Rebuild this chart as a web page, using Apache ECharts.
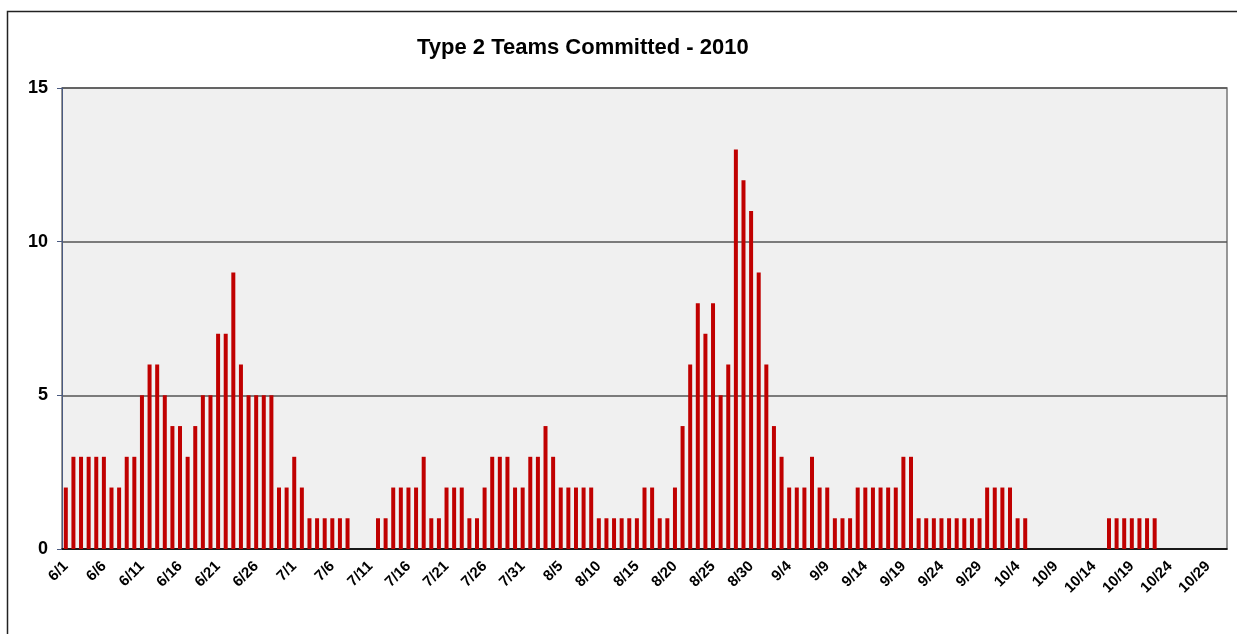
<!DOCTYPE html>
<html>
<head>
<meta charset="utf-8">
<title>Type 2 Teams Committed - 2010</title>
<script src="https://cdn.jsdelivr.net/npm/echarts@6/dist/echarts.min.js"></script>
<style>
  html, body { margin: 0; padding: 0; background: #fff; }
  #chart { width: 1237px; height: 634px; }
</style>
</head>
<body>
<div id="chart"></div>
<script>
// teams committed per day, one array per month
var june = [2, 3, 3, 3, 3, 3, 2, 2, 3, 3, 5, 6, 6, 5, 4, 4, 3, 4, 5, 5,
  7, 7, 9, 6, 5, 5, 5, 5, 2, 2]
var july = [3, 2, 1, 1, 1, 1, 1, 1, 0, 0, 0, 1, 1, 2, 2, 2, 2, 3, 1, 1,
  2, 2, 2, 1, 1, 2, 3, 3, 3, 2, 2]
var august = [3, 3, 4, 3, 2, 2, 2, 2, 2, 1, 1, 1, 1, 1, 1, 2, 2, 1, 1, 2,
  4, 6, 8, 7, 8, 5, 6, 13, 12, 11, 9]
var september = [6, 4, 3, 2, 2, 2, 3, 2, 2, 1, 1, 1, 2, 2, 2, 2, 2, 2, 3, 3,
  1, 1, 1, 1, 1, 1, 1, 1, 1, 2]
var october = [2, 2, 2, 1, 1, 0, 0, 0, 0, 0, 0, 0, 0, 0, 0, 1, 1, 1, 1, 1,
  1, 1, 0, 0, 0, 0, 0, 0, 0, 0, 0]

var months = [6, 7, 8, 9, 10]
var monthValues = [june, july, august, september, october]

// category labels like 6/1 ... 10/31
var days = []
var values = []
monthValues.forEach(function(arr, i) {
  arr.forEach(function(v, d) {
    days.push(months[i] + '/' + (d + 1))
    values.push(v)
  })
})

var chart = echarts.init(document.getElementById('chart'))
chart.setOption({
  animation: false,
  textStyle: { fontFamily: 'Liberation Sans, Arial, sans-serif' },
  title: {
    text: 'Type 2 Teams Committed - 2010',
    left: 412,
    top: 32,
    textStyle: {
      fontSize: 22,
      fontWeight: 'bold',
      color: '#000'
    }
  },
  graphic: [{
    type: 'rect',
    left: 5,
    top: 9,
    shape: { width: 1240, height: 640 },
    style: { fill: 'none', stroke: '#222', lineWidth: 1.5 },
    silent: true
  }],
  grid: {
    left: 62,
    right: 10,
    top: 88,
    bottom: 85,
    show: true,
    backgroundColor: '#f0f0f0',
    borderColor: '#777',
    borderWidth: 1.5
  },
  xAxis: {
    type: 'category',
    data: days,
    boundaryGap: true,
    axisLine: {
      lineStyle: { color: '#000', width: 1.5 }
    },
    axisTick: {
      interval: 4,
      length: 5,
      lineStyle: { color: '#333' }
    },
    axisLabel: {
      interval: 4,
      rotate: 45,
      margin: 15,
      fontSize: 15,
      fontWeight: 'bold',
      color: '#000'
    }
  },
  yAxis: {
    type: 'value',
    min: 0,
    max: 15,
    interval: 5,
    axisLine: {
      show: true,
      lineStyle: { color: '#4a5a80', width: 1 }
    },
    axisTick: {
      show: true,
      length: 5,
      lineStyle: { color: '#4a5a80' }
    },
    axisLabel: {
      margin: 14,
      fontSize: 18,
      fontWeight: 'bold',
      color: '#000'
    },
    splitLine: {
      lineStyle: { color: '#555', width: 1.5 }
    }
  },
  series: [{
    type: 'bar',
    data: values,
    barWidth: 4,
    itemStyle: { color: '#c00000' }
  }]
})
</script>
</body>
</html>
